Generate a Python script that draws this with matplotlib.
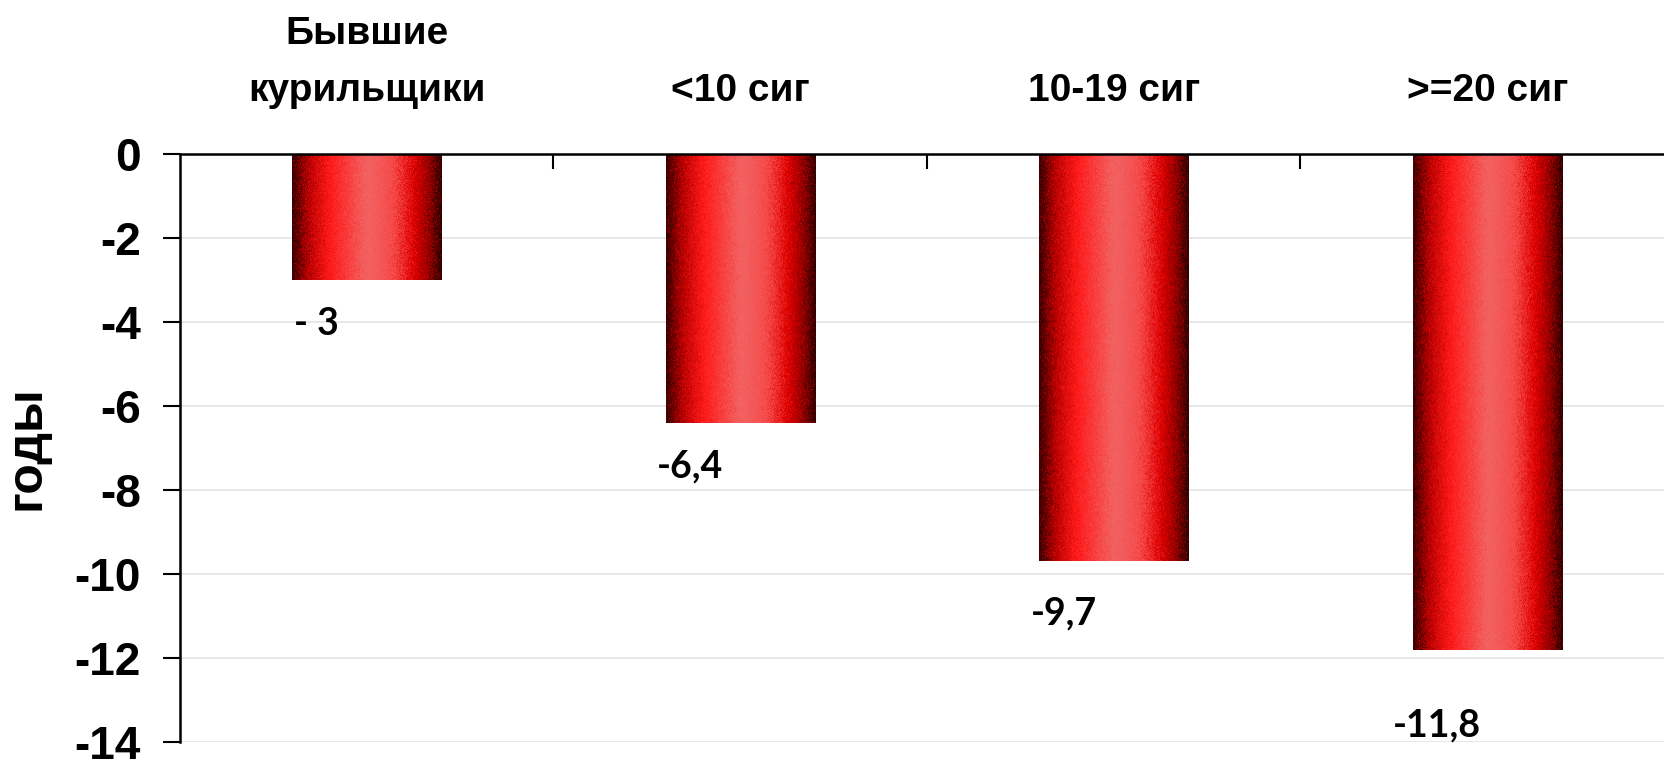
import numpy as np
import matplotlib.pyplot as plt
from matplotlib.colors import LinearSegmentedColormap

categories = ['Бывшие\nкурильщики', '<10 сиг', '10-19 сиг', '>=20 сиг']
values = [-3, -6.4, -9.7, -11.8]
value_labels = ['- 3', '-6,4', '-9,7', '-11,8']
yticks = [0, -2, -4, -6, -8, -10, -12, -14]

# how far below the bar end each value label sits (y units)
label_drop = [1.05, 1.05, 1.25, 1.8]

plt.rcParams['font.family'] = ['Liberation Sans', 'DejaVu Sans']

fig = plt.figure(figsize=(16.65, 7.61), dpi=100)
ax = fig.add_axes([180 / 1665, 1 - 742 / 761, 1 - 180 / 1665, 588 / 761])

x = np.arange(len(categories))
bars = ax.bar(x, values, width=0.4, color='none', edgecolor='none', zorder=2)

# cylinder-like shading across each bar, with a little print grain
shade = LinearSegmentedColormap.from_list('shade', [
    (0.00, '#3a0000'), (0.10, '#b80000'), (0.25, '#ff1a1a'),
    (0.50, '#f26464'), (0.68, '#f54a4a'), (0.82, '#e00000'),
    (0.93, '#8a0000'), (1.00, '#300000')])
rng = np.random.default_rng(7)
for b in bars:
    x0, w = b.get_x(), b.get_width()
    y1 = b.get_height()
    rows = int(abs(y1) * 42)
    tex = np.tile(np.linspace(0, 1, 150), (rows, 1))
    tex = np.clip(tex + rng.normal(0, 0.025, tex.shape), 0, 1)
    im = ax.imshow(tex, cmap=shade, aspect='auto', extent=(x0, x0 + w, y1, 0),
                   interpolation='bilinear', zorder=2)
    im.set_clip_path(b)

ax.set_xlim(-0.5, 3.5 - 9 / 373.5)
ax.set_ylim(-14, 0)
ax.set_yticks(yticks)
ax.set_yticklabels([str(t) for t in yticks], fontsize=33, fontweight='bold')
ax.tick_params(axis='y', length=12, width=1.5, pad=16, direction='out')
ax.grid(axis='y', color='#e0e0e0', linewidth=1.1, zorder=0)

# category axis runs along y = 0
ax.xaxis.tick_top()
ax.set_xticks([0.5, 1.5, 2.5])
ax.set_xticklabels([])
ax.tick_params(axis='x', direction='in', length=11, width=1.5)

for s in ['right', 'bottom']:
    ax.spines[s].set_visible(False)
ax.spines['left'].set_linewidth(1.8)
ax.spines['top'].set_linewidth(1.8)

for xi, cat in zip(x, categories):
    ax.text(xi, 1.09, cat, transform=ax.get_xaxis_transform(), ha='center', va='baseline',
            fontsize=28, fontweight='bold', linespacing=1.75)

for xi, v, lab, dy in zip(x, values, value_labels, label_drop):
    ax.text(xi - 0.134, v - dy, lab, ha='center', va='center',
            fontsize=27, fontweight='bold', family=['Lato', 'DejaVu Sans'])

ax.set_ylabel('годы', fontsize=36, fontweight='bold')
ax.yaxis.set_label_coords(-0.088, 0.5)

fig.savefig('out.png', dpi=100)
